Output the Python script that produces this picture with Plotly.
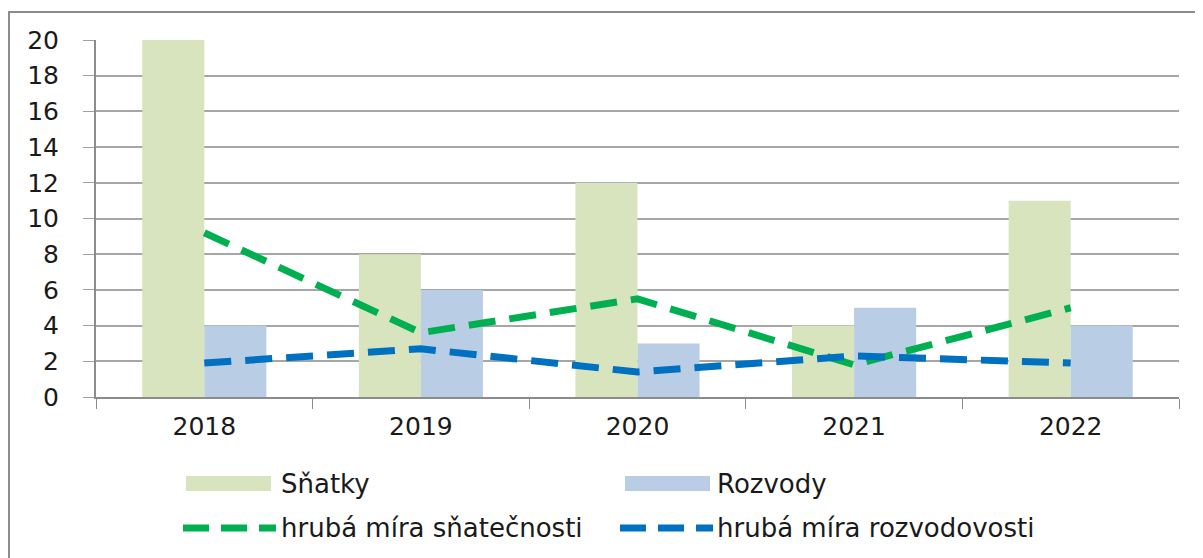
import plotly.graph_objects as go

years = ["2018", "2019", "2020", "2021", "2022"]
snatky = [20, 8, 12, 4, 11]
rozvody = [4, 6, 3, 5, 4]
mira_snatecnosti = [9.2, 3.6, 5.5, 1.8, 5.0]
mira_rozvodovosti = [1.9, 2.7, 1.4, 2.3, 1.9]

OFF = 8  # page body margin
W, H = 1203 - OFF, 558 - OFF
# plot area in screen pixels
L, R, T, B = 96, 1179, 40, 397
FONT = "DejaVu Sans"
FS = 25
FSL = 26

def px(x):
    return (x - L) / (R - L)

def py(y):
    return (B - y) / (B - T)

fig = go.Figure()
fig.add_bar(x=years, y=snatky, name="Sňatky", marker=dict(color="#D7E4BD", line=dict(width=0)), showlegend=False)
fig.add_bar(x=years, y=rozvody, name="Rozvody", marker=dict(color="#B9CDE5", line=dict(width=0)), showlegend=False)
fig.add_scatter(x=years, y=mira_snatecnosti, mode="lines", name="hrubá míra sňatečnosti",
                line=dict(color="#00B050", width=7, dash="27px,14px"), showlegend=False)
fig.add_scatter(x=years, y=mira_rozvodovosti, mode="lines", name="hrubá míra rozvodovosti",
                line=dict(color="#0070C0", width=7, dash="27px,14px"), showlegend=False)

shapes = []
# outer border
shapes.append(dict(type="rect", xref="paper", yref="paper", x0=px(9), x1=px(1197), y0=py(560), y1=py(12),
                   line=dict(color="#8C8C8C", width=2), layer="below"))
# legend swatches
shapes.append(dict(type="rect", xref="paper", yref="paper", x0=px(186), x1=px(271), y0=py(491), y1=py(476),
                   fillcolor="#D7E4BD", line=dict(width=0)))
shapes.append(dict(type="rect", xref="paper", yref="paper", x0=px(625), x1=px(710), y0=py(491), y1=py(476),
                   fillcolor="#B9CDE5", line=dict(width=0)))
shapes.append(dict(type="line", xref="paper", yref="paper", x0=px(183), x1=px(276), y0=py(528), y1=py(528),
                   line=dict(color="#00B050", width=7, dash="26px,12px")))
shapes.append(dict(type="line", xref="paper", yref="paper", x0=px(620), x1=px(713), y0=py(528), y1=py(528),
                   line=dict(color="#0070C0", width=7, dash="26px,12px")))

ann = []
for txt, x, y in [("Sňatky", 279, 484), ("Rozvody", 715, 484),
                  ("hrubá míra sňatečnosti", 279, 528), ("hrubá míra rozvodovosti", 715, 528)]:
    ann.append(dict(text=txt, xref="paper", yref="paper", x=px(x), y=py(y), xanchor="left", yanchor="middle",
                    showarrow=False, font=dict(family=FONT, size=FSL, color="#1a1a1a")))

fig.update_layout(
    width=W, height=H,
    margin=dict(l=L - OFF, r=W - (R - OFF), t=T - OFF, b=H - (B - OFF), pad=0),
    paper_bgcolor="white", plot_bgcolor="white",
    barmode="group", bargap=0.427, bargroupgap=0,
    shapes=shapes, annotations=ann,
    font=dict(family=FONT, size=FS, color="#1a1a1a"),
    showlegend=False,
)
fig.update_xaxes(type="category", tickson="boundaries", ticks="outside", ticklen=10, tickcolor="#8C8C8C",
                 showline=True, linecolor="#8C8C8C", linewidth=2, showgrid=False,
                 tickfont=dict(family=FONT, size=FS), ticklabelstandoff=6)
fig.update_yaxes(range=[0, 20], dtick=2, ticks="outside", ticklen=11, tickcolor="#A0A0A0",
                 showline=True, linecolor="#8C8C8C", linewidth=2,
                 showgrid=True, gridcolor="#A6A6A6", gridwidth=1.5, zeroline=False,
                 tickfont=dict(family=FONT, size=FS), ticklabelstandoff=19)

fig.write_html("out.html")
